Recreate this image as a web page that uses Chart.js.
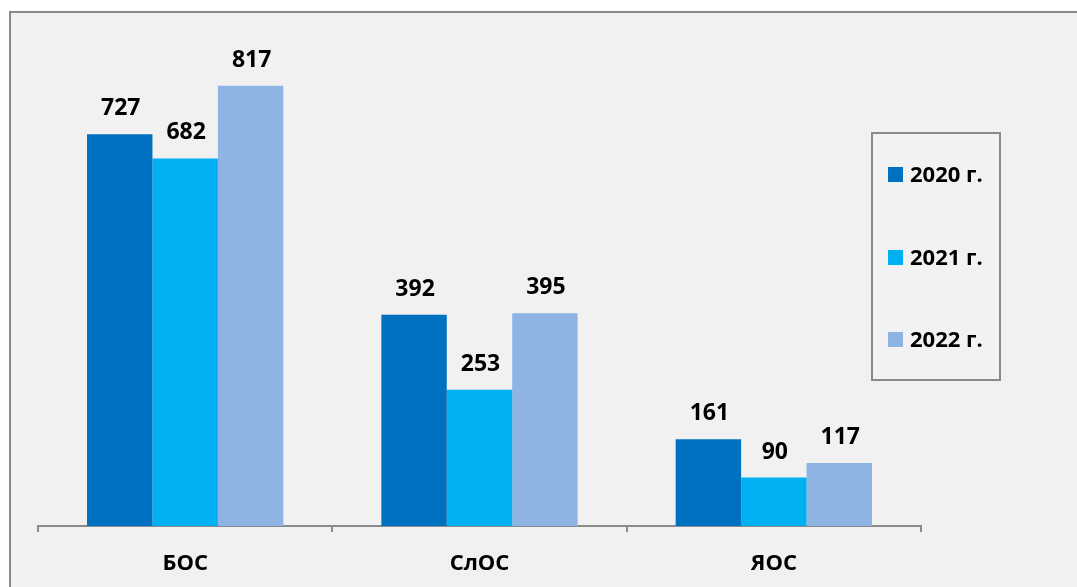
<!DOCTYPE html>
<html>
<head>
<meta charset="utf-8">
<script src="https://cdn.jsdelivr.net/npm/chart.js@4"></script>
<style>
  html, body { margin: 0; padding: 0; background: #ffffff; }
  #wrap { width: 1077px; height: 587px; }
</style>
</head>
<body>
<div id="wrap"><canvas id="chart" width="1077" height="587"></canvas></div>
<script>
// Datos del gráfico
const categorias = ["БОС", "СлОС", "ЯОС"];
const anios = ["2020 г.", "2021 г.", "2022 г."];
const valores2020 = [727, 392, 161];
const valores2021 = [682, 253, 90];
const valores2022 = [817, 395, 117];
const colores = ["#0070C0", "#00B0F0", "#8EB4E3"];

const fuente = "'Open Sans', 'Noto Sans', sans-serif";

// Fondo y marco (solo borde superior e izquierdo, como en el original)
const fondoPlugin = {
  id: "fondo",
  beforeDraw(chart) {
    const ctx = chart.ctx;
    ctx.save();
    ctx.fillStyle = "#F1F1F1";
    ctx.fillRect(9, 11, chart.width - 9, chart.height - 11);
    ctx.strokeStyle = "#8A8A8A";
    ctx.lineWidth = 2;
    ctx.beginPath();
    ctx.moveTo(10, chart.height);
    ctx.lineTo(10, 12);
    ctx.lineTo(chart.width, 12);
    ctx.stroke();
    ctx.restore();
  }
};

// Etiquetas con valores encima de cada barra
const etiquetasPlugin = {
  id: "etiquetas",
  afterDatasetsDraw(chart) {
    const ctx = chart.ctx;
    ctx.save();
    ctx.font = "bold 23px " + fuente;
    ctx.fillStyle = "#000000";
    ctx.textAlign = "center";
    ctx.textBaseline = "alphabetic";
    chart.data.datasets.forEach((ds, i) => {
      const meta = chart.getDatasetMeta(i);
      meta.data.forEach((bar, j) => {
        ctx.fillText(String(ds.data[j]), bar.x + 1, bar.y - 19);
      });
    });
    ctx.restore();
  }
};

// Leyenda en recuadro a la derecha
const leyendaPlugin = {
  id: "leyenda",
  afterDraw(chart) {
    const ctx = chart.ctx;
    ctx.save();
    ctx.fillStyle = "#F2F2F2";
    ctx.fillRect(872, 133, 128, 247);
    ctx.strokeStyle = "#8A8A8A";
    ctx.lineWidth = 2;
    ctx.strokeRect(872, 133, 128, 247);
    const filas = [174, 257, 339];
    ctx.font = "bold 22px " + fuente;
    ctx.textAlign = "left";
    ctx.textBaseline = "alphabetic";
    chart.data.datasets.forEach((ds, i) => {
      const y = filas[i];
      ctx.fillStyle = ds.backgroundColor;
      ctx.fillRect(888, y - 7, 15, 15);
      ctx.fillStyle = "#000000";
      ctx.fillText(ds.label, 910, y + 8);
    });
    ctx.restore();
  }
};

const ctx = document.getElementById("chart").getContext("2d");
new Chart(ctx, {
  type: "bar",
  data: {
    labels: categorias,
    datasets: [
      { label: anios[0], data: valores2020, backgroundColor: colores[0] },
      { label: anios[1], data: valores2021, backgroundColor: colores[1] },
      { label: anios[2], data: valores2022, backgroundColor: colores[2] }
    ]
  },
  options: {
    responsive: false,
    animation: false,
    devicePixelRatio: 1,
    layout: { padding: { left: 38, right: 156, top: 41, bottom: 0 } },
    datasets: {
      bar: { categoryPercentage: 0.667, barPercentage: 1.0 }
    },
    plugins: {
      legend: { display: false },
      tooltip: { enabled: false }
    },
    scales: {
      x: {
        afterFit(scale) { scale.height = 61; },
        grid: {
          display: true,
          drawOnChartArea: false,
          drawTicks: true,
          tickLength: 6,
          color: "#8A8A8A",
          lineWidth: 2
        },
        border: { display: true, color: "#8A8A8A", width: 2 },
        ticks: {
          color: "#000000",
          padding: 19,
          font: { family: fuente, size: 22, weight: "bold" }
        }
      },
      y: {
        display: false,
        min: 0,
        max: 900
      }
    }
  },
  plugins: [fondoPlugin, etiquetasPlugin, leyendaPlugin]
});
</script>
</body>
</html>
